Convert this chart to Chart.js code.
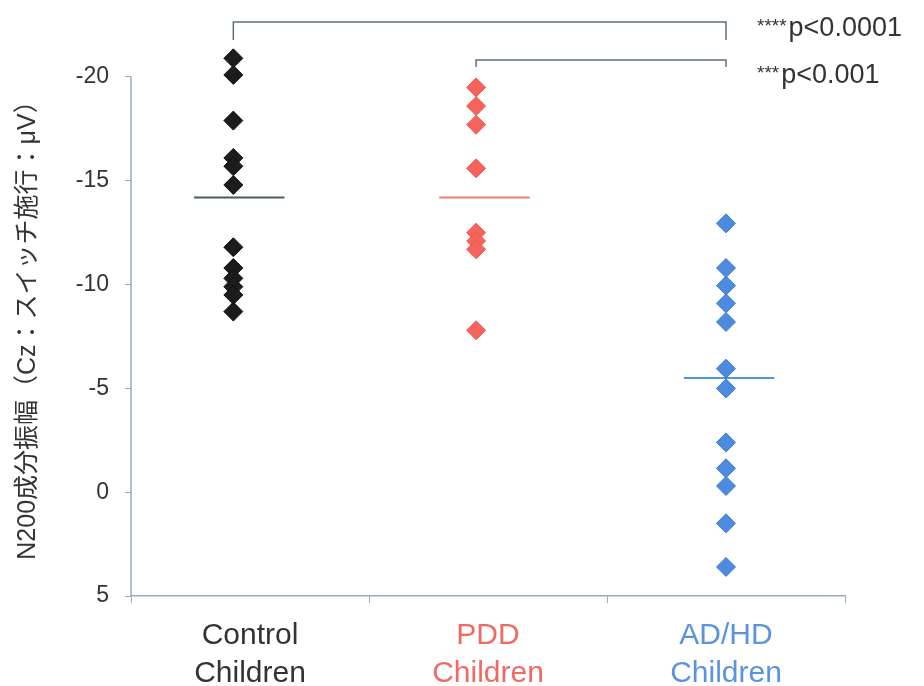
<!DOCTYPE html>
<html>
<head>
<meta charset="utf-8">
<script src="https://cdn.jsdelivr.net/npm/chart.js@4.4.1/dist/chart.umd.min.js"></script>
<style>
  html, body { margin: 0; padding: 0; background: #fff; }
  #wrap { width: 924px; height: 686px; }
</style>
</head>
<body>
<div id="wrap"><canvas id="chart" width="924" height="686"></canvas></div>
<script>
// data
const categories = [["Control", "Children"], ["PDD", "Children"], ["AD/HD", "Children"]];
const controlValues = [-20.9, -20.1, -17.9, -16.1, -15.7, -14.8, -11.8, -10.8, -10.3, -9.9, -9.5, -8.7];
const pddValues = [-19.5, -18.6, -17.7, -15.6, -12.5, -12.1, -11.7, -7.8];
const adhdValues = [-12.95, -10.8, -9.95, -9.1, -8.2, -5.95, -5.0, -2.4, -1.15, -0.3, 1.5, 3.6];
const meanValues = [-14.2, -14.2, -5.5];
const yTicks = [-20, -15, -10, -5, 0, 5];
const pStars = ["****", "***"];
const pTexts = ["p<0.0001", "p<0.001"];
const yTitle = "N200成分振幅（Cz：スイッチ施行：μV）";

// where each group sits on the x scale (0..3)
const groupX = [0.43, 1.45, 2.5];
const meanX = [0.455, 1.485, 2.513];
const meanHalf = 0.19;

// y scale: room above -20 for the top points and brackets
const yTop = -23.5;
const yBottom = 5;

const fillColors = ["#1c1c1c", "#f5645a", "#4d8be0"];
const edgeColors = ["#111111", "#ee5a50", "#3f78cc"];
const meanColors = ["#4b5c5e", "#f27b70", "#4a9be3"];
const labelColors = ["#333333", "#f06a62", "#5b93e0"];
const axisColor = "#9aa9bd";
const FONT = '"Liberation Sans", Arial, "Noto Sans CJK JP", sans-serif';

// bracket levels in y units (above the plot)
const brackets = [
  { from: 0, to: 2, top: -22.65, end: -21.78, text: -21.97 },
  { from: 1, to: 2, top: -20.82, end: -20.48, text: -19.71 },
];

const pointSets = [controlValues, pddValues, adhdValues];
const datasets = pointSets.map((vals, i) => ({
  label: categories[i].join(" "),
  data: vals.map((v) => ({ x: groupX[i], y: v })),
  pointStyle: "rectRot",
  pointRadius: 9.5,
  pointHoverRadius: 9.5,
  backgroundColor: fillColors[i],
  borderColor: edgeColors[i],
  borderWidth: 1,
  showLine: false,
  clip: false,
}));

meanValues.forEach((m, i) => {
  datasets.push({
    label: "mean " + i,
    data: [
      { x: meanX[i] - meanHalf, y: m },
      { x: meanX[i] + meanHalf, y: m },
    ],
    showLine: true,
    borderColor: meanColors[i],
    borderWidth: 2,
    pointRadius: 0,
    clip: false,
  });
});

const extrasPlugin = {
  id: "extras",
  afterDraw(chart) {
    const { ctx, chartArea } = chart;
    const x = chart.scales.x;
    const y = chart.scales.y;
    ctx.save();

    // y axis line only from -20 down to 5
    ctx.strokeStyle = axisColor;
    ctx.lineWidth = 1.5;
    ctx.beginPath();
    ctx.moveTo(chartArea.left, y.getPixelForValue(yTicks[0]));
    ctx.lineTo(chartArea.left, y.getPixelForValue(yTicks[yTicks.length - 1]));
    ctx.stroke();

    // axis title
    ctx.save();
    ctx.translate(28, 324);
    ctx.rotate(-Math.PI / 2);
    ctx.fillStyle = "#333333";
    ctx.font = "25px " + FONT;
    ctx.textAlign = "center";
    ctx.textBaseline = "middle";
    ctx.fillText(yTitle, 0, 0);
    ctx.restore();

    // significance brackets
    ctx.strokeStyle = "#5d6e7c";
    ctx.lineWidth = 1.5;
    brackets.forEach((b, i) => {
      const x1 = x.getPixelForValue(groupX[b.from]);
      const x2 = x.getPixelForValue(groupX[b.to]);
      const yT = y.getPixelForValue(b.top);
      const yE = y.getPixelForValue(b.end);
      ctx.beginPath();
      ctx.moveTo(x1, yE);
      ctx.lineTo(x1, yT);
      ctx.lineTo(x2, yT);
      ctx.lineTo(x2, yE);
      ctx.stroke();

      const base = y.getPixelForValue(b.text);
      ctx.fillStyle = "#333333";
      ctx.textBaseline = "alphabetic";
      ctx.textAlign = "left";
      ctx.font = "19px " + FONT;
      ctx.fillText(pStars[i], x2 + 31, base - 4);
      const w = ctx.measureText(pStars[i]).width;
      ctx.font = "27px " + FONT;
      ctx.fillText(pTexts[i], x2 + 33 + w, base);
    });
    ctx.restore();
  },
};

// keep -20 at y=77 and 5 at y=596
const pxPerUnit = (596 - 77) / 25;
const topPad = 77 - (-20 - yTop) * pxPerUnit;

new Chart(document.getElementById("chart"), {
  type: "scatter",
  data: { datasets: datasets },
  plugins: [extrasPlugin],
  options: {
    responsive: false,
    animation: false,
    events: [],
    layout: { autoPadding: false, padding: { top: topPad, right: 79, left: 0, bottom: 0 } },
    plugins: {
      legend: { display: false },
      tooltip: { enabled: false },
    },
    scales: {
      x: {
        type: "linear",
        min: 0,
        max: 3,
        afterBuildTicks: (s) => {
          s.ticks = categories.map((c, i) => ({ value: i + 0.5 }));
        },
        afterFit: (s) => {
          s.height = 90;
          s.paddingLeft = 0;
          s.paddingRight = 0;
        },
        ticks: {
          callback: (v, i) => categories[i],
          color: (c) => labelColors[c.index],
          font: { family: FONT, size: 30, lineHeight: 1.25 },
          padding: 14,
          maxRotation: 0,
          autoSkip: false,
        },
        grid: { offset: true, drawOnChartArea: false, tickLength: 7, color: axisColor },
        border: { color: axisColor, width: 1.5 },
      },
      y: {
        type: "linear",
        reverse: true,
        min: yTop,
        max: yBottom,
        afterBuildTicks: (s) => {
          s.ticks = yTicks.map((v) => ({ value: v }));
        },
        afterFit: (s) => {
          s.width = 131;
          s.paddingTop = 0;
          s.paddingBottom = 0;
        },
        ticks: {
          color: "#333333",
          font: { family: FONT, size: 23 },
          padding: 16,
        },
        grid: { drawOnChartArea: false, tickLength: 6, color: axisColor },
        border: { display: false },
      },
    },
  },
});
</script>
</body>
</html>
